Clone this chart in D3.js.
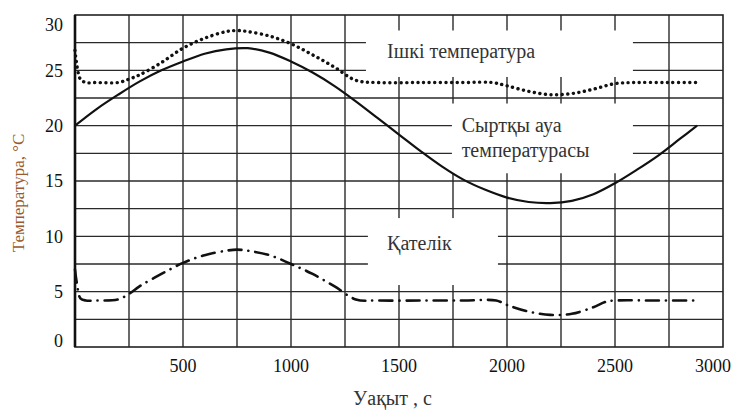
<!DOCTYPE html>
<html>
<head>
<meta charset="utf-8">
<script src="https://cdn.jsdelivr.net/npm/d3@7"></script>
<style>
  body { margin: 0; background: #fff; }
  text { font-family: "Liberation Serif", "DejaVu Serif", serif; }
</style>
</head>
<body>
<div id="chart"></div>
<script>
// 1: DATA
const timeTicks = [500, 1000, 1500, 2000, 2500, 3000];
const tempTicks = [0, 5, 10, 15, 20, 25, 30];

// outside air temperature (solid)
const outerTime = [0, 100, 200, 300, 400, 500, 600, 700, 800, 900, 1000, 1100, 1200, 1300, 1400,
  1500, 1600, 1700, 1800, 1900, 2000, 2100, 2200, 2300, 2400, 2500, 2600, 2700, 2800, 2880];
const outerTemp = [20.0, 21.5, 22.8, 24.0, 25.0, 25.8, 26.5, 26.9, 27.0, 26.6, 25.8, 24.8, 23.6, 22.2, 20.7,
  19.2, 17.7, 16.3, 15.1, 14.2, 13.5, 13.1, 13.0, 13.2, 13.8, 14.8, 16.0, 17.3, 18.8, 20.0];

// inside temperature (dotted)
const innerTime = [0, 10, 25, 50, 100, 200, 250, 300, 400, 500, 600, 700, 750, 800, 900, 1000, 1100, 1200,
  1300, 1400, 1600, 1800, 1930, 2000, 2100, 2200, 2300, 2400, 2500, 2600, 2750, 2880];
const innerTemp = [26.8, 25.3, 24.2, 23.9, 23.9, 23.9, 24.2, 24.6, 25.7, 27.0, 27.9, 28.5, 28.6, 28.5, 28.1, 27.4, 26.4, 25.3,
  24.1, 23.9, 23.9, 23.9, 23.9, 23.6, 23.1, 22.8, 22.9, 23.3, 23.8, 23.9, 23.9, 23.9];

// error (dash-dot)
const errTime = [0, 10, 25, 50, 100, 200, 250, 300, 400, 500, 600, 700, 750, 800, 900, 1000, 1100, 1200,
  1300, 1400, 1600, 1800, 1950, 2000, 2100, 2200, 2300, 2400, 2460, 2500, 2700, 2880];
const errTemp = [7.0, 5.6, 4.4, 4.2, 4.2, 4.3, 4.8, 5.5, 6.6, 7.6, 8.3, 8.7, 8.8, 8.7, 8.3, 7.5, 6.6, 5.5,
  4.3, 4.2, 4.2, 4.2, 4.2, 3.8, 3.2, 2.9, 3.0, 3.6, 4.1, 4.2, 4.2, 4.2];

const labels = ["Ішкі температура", "Сыртқы ауа", "температурасы", "Қателік"];

// 2: LAYOUT
const margin = { top: 15, right: 12, bottom: 65, left: 75 };
const width = 735 - margin.left - margin.right;
const height = 412 - margin.top - margin.bottom;

const svgRoot = d3.select("#chart")
    .append("svg")
    .attr("width", width + margin.left + margin.right)
    .attr("height", height + margin.top + margin.bottom);

const svg = svgRoot.append("g")
    .attr("transform", `translate(${margin.left},${margin.top})`);

// 3: SCALES
const xScale = d3.scaleLinear().domain([0, 3000]).range([0, width]);
const yScale = d3.scaleLinear().domain([0, 30]).range([height, 0]);

// 4: GRID
svg.append("g")
    .selectAll("line")
    .data(d3.range(250, 3000, 250))
    .enter().append("line")
    .attr("x1", d => xScale(d)).attr("x2", d => xScale(d))
    .attr("y1", 0).attr("y2", height)
    .attr("stroke", "#2a2a2a")
    .attr("stroke-width", 1.4);

svg.append("g")
    .selectAll("line")
    .data(d3.range(2.5, 30, 2.5))
    .enter().append("line")
    .attr("x1", 0).attr("x2", width)
    .attr("y1", d => yScale(d)).attr("y2", d => yScale(d))
    .attr("stroke", "#2a2a2a")
    .attr("stroke-width", 1.4);

// white patches behind labels (t0, t1, T0, T1)
const boxes = [[1347, 2583, 24.4, 28.6], [1745, 2583, 15.7, 22.0], [1356, 1958, 5.6, 11.65]];
svg.append("g")
    .selectAll("rect")
    .data(boxes)
    .enter().append("rect")
    .attr("x", d => xScale(d[0]))
    .attr("y", d => yScale(d[3]))
    .attr("width", d => xScale(d[1]) - xScale(d[0]))
    .attr("height", d => yScale(d[2]) - yScale(d[3]))
    .attr("fill", "#fff");

// frame
svg.append("rect")
    .attr("width", width).attr("height", height)
    .attr("fill", "none")
    .attr("stroke", "#222")
    .attr("stroke-width", 1.6);
svg.append("line")
    .attr("x1", 0).attr("x2", 0).attr("y1", 0).attr("y2", height)
    .attr("stroke", "#111").attr("stroke-width", 2.6);

// 5: CURVES
const line = d3.line()
    .x(d => xScale(d[0]))
    .y(d => yScale(d[1]))
    .curve(d3.curveCatmullRom.alpha(0.5));

svg.append("path")
    .datum(d3.zip(outerTime, outerTemp))
    .attr("fill", "none")
    .attr("stroke", "#111")
    .attr("stroke-width", 2.2)
    .attr("d", line);

svg.append("path")
    .datum(d3.zip(innerTime, innerTemp))
    .attr("fill", "none")
    .attr("stroke", "#111")
    .attr("stroke-width", 3.4)
    .attr("stroke-linecap", "round")
    .attr("stroke-dasharray", "0.1,5.5")
    .attr("d", line);

svg.append("path")
    .datum(d3.zip(errTime, errTemp))
    .attr("fill", "none")
    .attr("stroke", "#111")
    .attr("stroke-width", 2.6)
    .attr("stroke-linecap", "round")
    .attr("stroke-dasharray", "13,7,0.1,7")
    .attr("d", line);

// 6: AXES LABELS
svg.append("g")
    .selectAll("text")
    .data(timeTicks)
    .enter().append("text")
    .attr("x", d => xScale(d) - (d === 3000 ? 10 : 0))
    .attr("y", height + 25)
    .attr("text-anchor", "middle")
    .style("font-size", "18px")
    .attr("fill", "#111")
    .text(d => d);

svg.append("g")
    .selectAll("text")
    .data(tempTicks)
    .enter().append("text")
    .attr("x", -12)
    .attr("y", d => yScale(d))
    .attr("dy", d => d === 30 ? "0.9em" : d === 0 ? "0" : "0.35em")
    .attr("text-anchor", "end")
    .style("font-size", "18px")
    .attr("fill", "#111")
    .text(d => d);

svg.append("text")
    .attr("x", xScale(1470))
    .attr("y", height + 58)
    .attr("text-anchor", "middle")
    .style("font-size", "20px")
    .attr("fill", "#333")
    .text("Уақыт , с");

svg.append("text")
    .attr("transform", "rotate(-90)")
    .attr("x", -(193 - margin.top))
    .attr("y", -margin.left + 24)
    .attr("text-anchor", "middle")
    .style("font-size", "17px")
    .attr("fill", "#9b5a2c")
    .text("Температура, °C");

// 7: CURVE LABELS
const labelPos = [[1445, 26.1], [1790, 19.4], [1790, 17.15], [1445, 8.8]];
svg.append("g")
    .selectAll("text")
    .data(labels)
    .enter().append("text")
    .attr("x", (d, i) => xScale(labelPos[i][0]))
    .attr("y", (d, i) => yScale(labelPos[i][1]))
    .style("font-size", "20px")
    .attr("fill", "#333")
    .text(d => d);
</script>
</body>
</html>
